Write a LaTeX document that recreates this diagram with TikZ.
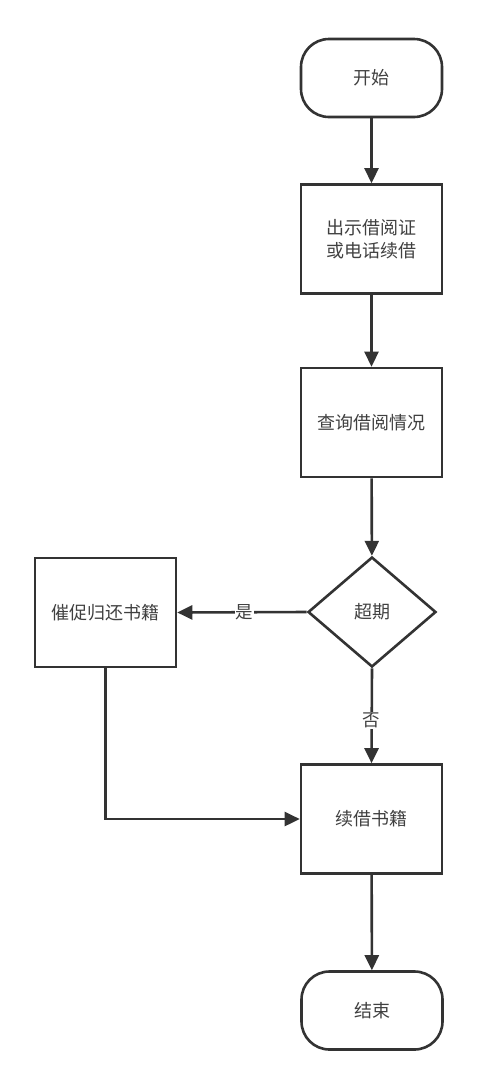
\documentclass[tikz,border=0pt]{standalone}
\usepackage{fontspec}
\newfontfamily\cjk{Noto Sans CJK SC}
\usetikzlibrary{arrows.meta,shapes.geometric,calc}
\definecolor{ink}{HTML}{333333}
\definecolor{txt}{HTML}{404040}
\begin{document}
\begin{tikzpicture}[x=1pt,y=1pt,
  base/.style={draw=ink,line width=2.6pt,font=\cjk\fontsize{18}{23}\selectfont,text=txt,align=center,inner sep=0pt},
  term/.style={base,rounded corners=28pt,minimum width=141pt,minimum height=78pt},
  proc/.style={base,minimum width=141pt,minimum height=109pt},
  dec/.style={base,diamond,shape aspect=1.16,minimum width=128pt,minimum height=110pt},
  conn/.style={draw=ink,line width=2.6pt,-{Triangle[length=15pt,width=14pt]}},
  lab/.style={fill=white,font=\cjk\fontsize{17.5}{20}\selectfont,text=txt,inner sep=1pt}]
\useasboundingbox (0,0) rectangle (477,-1090);
\node[term] (start) at (371.5,-78) {开始};
\node[proc] (b1) at (371.5,-239) {出示借阅证\\或电话续借};
\node[proc] (b2) at (371.5,-422.5) {查询借阅情况};
\node[dec] (dia) at (372,-612) {超期};
\node[proc] (left) at (105.5,-612.5) {催促归还书籍};
\node[proc] (b3) at (371.5,-819) {续借书籍};
\node[term] (end) at (372,-1010.5) {结束};
\coordinate (corner) at (left.south |- b3.west);
\draw[conn] (start) -- (b1);
\draw[conn] (b1) -- (b2);
\draw[conn] (b2) -- (dia);
\draw[conn] (dia.west) -- node[lab,pos=0.48] (yes) {是} (left.east);
\draw[conn] (dia.south) -- node[lab,pos=0.55] (no) {否} (b3.north);
\draw[conn] (left.south) -- (corner) -- (b3.west);
\draw[conn] (b3) -- (end);
\end{tikzpicture}
\end{document}
